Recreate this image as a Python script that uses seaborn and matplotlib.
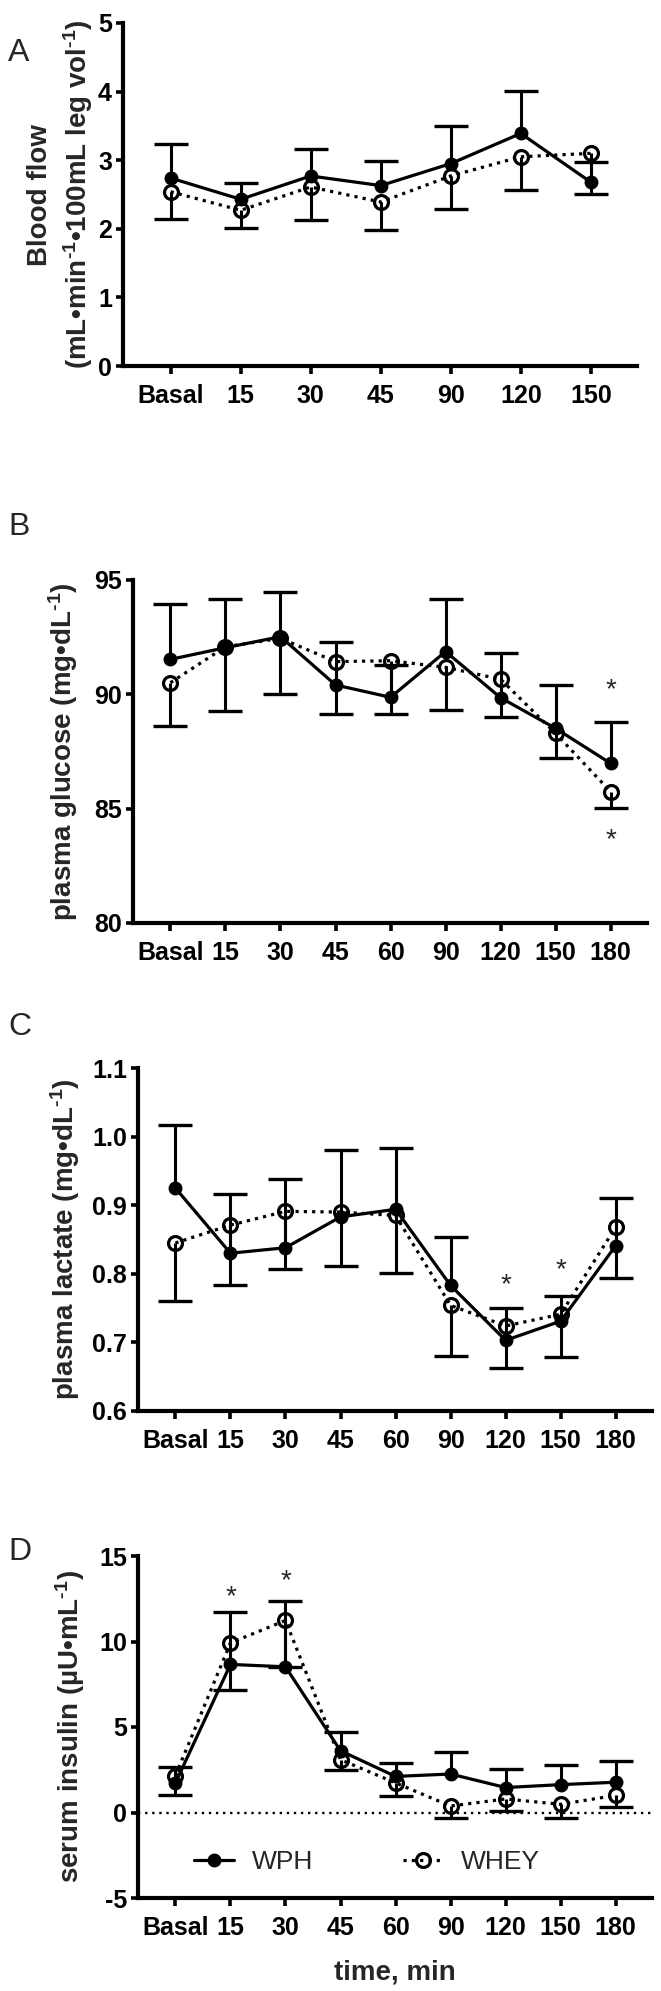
import numpy as np
import seaborn as sns
import matplotlib.pyplot as plt

# time points
times_a = ['Basal', '15', '30', '45', '90', '120', '150']
times = ['Basal', '15', '30', '45', '60', '90', '120', '150', '180']

# A: blood flow (WPH error bars up, WHEY error bars down)
wph_a = [2.74, 2.43, 2.77, 2.63, 2.95, 3.39, 2.68]
wph_a_err = [0.49, 0.24, 0.40, 0.36, 0.55, 0.62, 0.29]
whey_a = [2.54, 2.27, 2.61, 2.39, 2.77, 3.05, 3.10]
whey_a_err = [0.40, 0.26, 0.48, 0.41, 0.48, 0.49, 0.60]

# B: plasma glucose
wph_b = [91.53, 92.04, 92.52, 90.41, 89.87, 91.87, 89.85, 88.51, 86.98]
wph_b_err = [2.42, 2.11, 1.94, 1.89, 1.41, 2.28, 1.94, 1.90, 1.80]
whey_b = [90.51, 92.08, 92.45, 91.43, 91.47, 91.18, 90.66, 88.29, 85.74]
whey_b_err = [1.89, 2.81, 2.44, 2.30, 2.33, 1.87, 1.64, 1.09, 0.73]

# C: plasma lactate
wph_c = [0.925, 0.830, 0.838, 0.883, 0.894, 0.783, 0.703, 0.731, 0.841]
wph_c_err = [0.092, 0.087, 0.100, 0.097, 0.089, 0.071, 0.047, 0.037, 0.069]
whey_c = [0.845, 0.871, 0.891, 0.890, 0.885, 0.754, 0.724, 0.741, 0.868]
whey_c_err = [0.085, 0.087, 0.084, 0.078, 0.084, 0.074, 0.061, 0.063, 0.074]

# D: serum insulin
wph_d = [1.73, 8.66, 8.52, 3.61, 2.11, 2.25, 1.46, 1.63, 1.77]
wph_d_err = [0.94, 3.05, 3.86, 1.09, 0.77, 1.26, 1.07, 1.15, 1.22]
whey_d = [2.15, 9.92, 11.23, 3.09, 1.73, 0.38, 0.79, 0.48, 1.00]
whey_d_err = [1.15, 2.76, 2.70, 0.63, 0.79, 0.69, 0.73, 0.79, 0.69]

# significance stars (time index, y)
stars_b = [(8, 90.2), (8, 83.6)]
stars_c = [(6, 0.783), (7, 0.805)]
stars_d = [(1, 12.6), (2, 13.5)]

sns.set_style('ticks')
plt.rcParams['font.family'] = ['Liberation Sans', 'DejaVu Sans']
plt.rcParams['mathtext.fontset'] = 'custom'
plt.rcParams['mathtext.rm'] = 'Liberation Sans:bold'
plt.rcParams['mathtext.bf'] = 'Liberation Sans:bold'
plt.rcParams['mathtext.it'] = 'Liberation Sans:bold:italic'

W, H = 661, 1991
fig = plt.figure(figsize=(W / 100, H / 100), dpi=100)

SUP = '$^{\u2010' + '1}$'


def add_ax(left, top, right, bottom):
    return fig.add_axes([left / W, 1 - bottom / H, (right - left) / W, (bottom - top) / H])


def panel(ax, labels, wph, wph_err, whey, whey_err, ylim, yticks, yticklabels, ylabel, lab_x):
    n = len(labels)
    x = np.arange(n)
    zeros = np.zeros(n)
    eb = ax.errorbar(x, wph, yerr=[zeros, wph_err], fmt='none', ecolor='black',
                     elinewidth=2.2, capsize=12, capthick=2.4, zorder=2)
    eb[1][0].set_visible(False)
    eb = ax.errorbar(x, whey, yerr=[whey_err, zeros], fmt='none', ecolor='black',
                     elinewidth=2.2, capsize=12, capthick=2.4, zorder=2)
    eb[1][1].set_visible(False)

    sns.lineplot(x=x, y=whey, ax=ax, color='black', linewidth=2.3, linestyle=(0, (1, 1.6)),
                 marker='o', markersize=10, markerfacecolor='none', markeredgecolor='black',
                 markeredgewidth=2.3, label='WHEY', legend=False, zorder=3)
    sns.lineplot(x=x, y=wph, ax=ax, color='black', linewidth=2.3,
                 marker='o', markersize=9, markerfacecolor='black', markeredgecolor='black',
                 markeredgewidth=1, label='WPH', legend=False, zorder=4)

    ax.set_xlim(-0.68, n - 1 + 0.66)
    ax.set_ylim(*ylim)
    ax.set_xticks(x)
    ax.set_xticklabels(labels, fontweight='bold')
    ax.set_yticks(yticks)
    ax.set_yticklabels(yticklabels, fontweight='bold')
    sns.despine(ax=ax)
    for s in ['left', 'bottom']:
        ax.spines[s].set_linewidth(3)
        ax.spines[s].set_color('black')
    ax.tick_params(axis='both', colors='black', width=2.6, labelsize=18)
    ax.tick_params(axis='x', length=6, pad=7)
    ax.tick_params(axis='y', length=5, pad=3)
    ax.set_xlabel('')
    ax.set_ylabel('')
    # y label lines, centred at the given x positions (axes fraction)
    for text, lx in zip(ylabel, lab_x):
        ax.text(lx, 0.5, text, transform=ax.transAxes, rotation=90, ha='center',
                va='center', fontsize=20, fontweight='bold')


def stars(ax, pts):
    for i, y in pts:
        ax.text(i, y, '*', ha='center', va='center', fontsize=20)


ax_a = add_ax(123, 23, 637, 366)
panel(ax_a, times_a, wph_a, wph_a_err, whey_a, whey_a_err, (0, 5), [0, 1, 2, 3, 4, 5],
      ['0', '1', '2', '3', '4', '5'],
      ['Blood flow', '(mL•min' + SUP + '•100mL leg vol' + SUP + ')'], [-0.161, -0.088])

ax_b = add_ax(133, 580, 647, 923)
panel(ax_b, times, wph_b, wph_b_err, whey_b, whey_b_err, (80, 95), [80, 85, 90, 95],
      ['80', '85', '90', '95'], ['plasma glucose (mg•dL' + SUP + ')'], [-0.136])
stars(ax_b, stars_b)

ax_c = add_ax(138, 1068, 652, 1411)
panel(ax_c, times, wph_c, wph_c_err, whey_c, whey_c_err, (0.6, 1.1),
      [0.6, 0.7, 0.8, 0.9, 1.0, 1.1], ['0.6', '0.7', '0.8', '0.9', '1.0', '1.1'],
      ['plasma lactate (mg•dL' + SUP + ')'], [-0.142])
stars(ax_c, stars_c)

ax_d = add_ax(138, 1556, 652, 1898)
ax_d.axhline(0, color='black', linewidth=1.7, linestyle=(0, (1, 2)), zorder=1)
panel(ax_d, times, wph_d, wph_d_err, whey_d, whey_d_err, (-5, 15), [-5, 0, 5, 10, 15],
      ['-5', '0', '5', '10', '15'], ['serum insulin (µU•mL' + SUP + ')'], [-0.132])
stars(ax_d, stars_d)
h, l = ax_d.get_legend_handles_labels()
order = [l.index('WPH'), l.index('WHEY')]
ax_d.legend([h[i] for i in order], [l[i] for i in order], ncol=2, loc='center left',
            bbox_to_anchor=(0.109, 0.105), frameon=False, fontsize=19,
            handlelength=1.5, handletextpad=0.7, columnspacing=3.4,
            borderpad=0, borderaxespad=0)

fig.text(395 / W, 1 - 1973 / H, 'time, min', ha='center', va='center',
         fontsize=20, fontweight='bold')

for letter, y in [('A', 53), ('B', 527), ('C', 1027), ('D', 1552)]:
    fig.text(8 / W, 1 - y / H, letter, ha='left', va='center', fontsize=23)

fig.savefig('out.png', dpi=100)
